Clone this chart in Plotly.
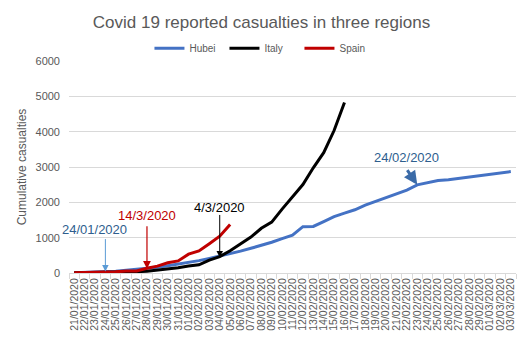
import plotly.graph_objects as go
import datetime as dt

# Category labels (days)
start = dt.date(2020, 1, 21)
dates = [(start + dt.timedelta(days=i)).strftime("%d/%m/%Y") for i in range(43)]

hubei = [9, 17, 24, 39, 52, 76, 100, 125, 162, 204, 249, 294, 350, 414, 479, 549,
         618, 699, 780, 871, 974, 1068, 1310, 1318, 1457, 1596, 1696, 1789, 1921,
         2029, 2144, 2250, 2346, 2495, 2563, 2615, 2641, 2682, 2727, 2761, 2803,
         2834, 2871]
italy = [7, 10, 12, 17, 21, 29, 34, 52, 79, 107, 148, 197, 233, 366, 463, 631, 827,
         1016, 1266, 1441, 1809, 2158, 2503, 2978, 3405, 4032, 4825]
spain = [5, 10, 17, 28, 35, 54, 55, 133, 195, 289, 342, 533, 623, 830, 1043, 1375]

TXT = "#595959"
GRID = "#D9D9D9"
FONT = "Liberation Sans"

fig = go.Figure()
fig.add_trace(go.Scatter(x=dates, y=hubei, mode="lines", name="Hubei",
                         line=dict(color="#4472C4", width=3)))
fig.add_trace(go.Scatter(x=dates[:len(italy)], y=italy, mode="lines", name="Italy",
                         line=dict(color="#000000", width=3)))
fig.add_trace(go.Scatter(x=dates[:len(spain)], y=spain, mode="lines", name="Spain",
                         line=dict(color="#C00000", width=3)))

ann = []
# text labels
ann.append(dict(x=dates[2], y=1230, text="24/01/2020", showarrow=False,
                font=dict(color="#2E5E8E", size=13, family=FONT), xanchor="center"))
ann.append(dict(x=dates[7], y=1620, text="14/3/2020", showarrow=False,
                font=dict(color="#C00000", size=13, family=FONT), xanchor="center"))
ann.append(dict(x=dates[14], y=1860, text="4/3/2020", showarrow=False,
                font=dict(color="#000000", size=13, family=FONT), xanchor="center"))
ann.append(dict(x=dates[32], y=3270, text="24/02/2020", showarrow=False,
                font=dict(color="#2E5E8E", size=13, family=FONT), xanchor="center"))
# arrows
ann.append(dict(x=dates[3], y=40, text="", showarrow=True, ax=0, ay=-34,
                arrowhead=2, arrowsize=1.3, arrowwidth=1, arrowcolor="#5B9BD5"))
ann.append(dict(x=dates[7], y=120, text="", showarrow=True, ax=0, ay=-44,
                arrowhead=2, arrowsize=1.3, arrowwidth=1.2, arrowcolor="#C00000"))
ann.append(dict(x=dates[14], y=440, text="", showarrow=True, ax=0, ay=-44,
                arrowhead=2, arrowsize=1.3, arrowwidth=1, arrowcolor="#000000"))
ann.append(dict(x=dates[33], y=2500, text="", showarrow=True, ax=-11, ay=-16,
                arrowhead=2, arrowsize=0.9, arrowwidth=3, arrowcolor="#3B6BA8"))

fig.update_layout(
    width=520, height=350,
    margin=dict(l=61, r=12, t=53, b=85),
    paper_bgcolor="white", plot_bgcolor="white",
    font=dict(family=FONT, color=TXT),
    title=dict(text="Covid 19 reported casualties in three regions", x=0.4875, xanchor="center",
               y=0.96, yanchor="middle", font=dict(size=17, color=TXT, family=FONT)),
    legend=dict(orientation="h", x=0.18, xanchor="left", y=1.06, yanchor="middle",
                font=dict(size=10, color=TXT), entrywidth=30, entrywidthmode="pixels",
                tracegroupgap=0, bgcolor="rgba(0,0,0,0)"),
    showlegend=True,
    annotations=ann,
)
fig.update_xaxes(type="category", range=[-0.5, 42.5], tickangle=-90,
                 tickmode="linear", tick0=0, dtick=1,
                 tickfont=dict(size=10.5, color=TXT), showgrid=False,
                 showline=True, linecolor=GRID, linewidth=1,
                 ticks="outside", tickson="boundaries", ticklen=5, tickcolor=GRID,
                 zeroline=False, automargin=False)
fig.update_yaxes(range=[0, 6000], dtick=1000, tickfont=dict(size=11, color=TXT),
                 showgrid=True, gridcolor=GRID, gridwidth=1, zeroline=False,
                 showline=False, ticks="", ticklabelstandoff=8, automargin=False,
                 title=dict(text="Cumulative casualties", font=dict(size=12, color=TXT), standoff=6))

fig.write_html("out.html")
